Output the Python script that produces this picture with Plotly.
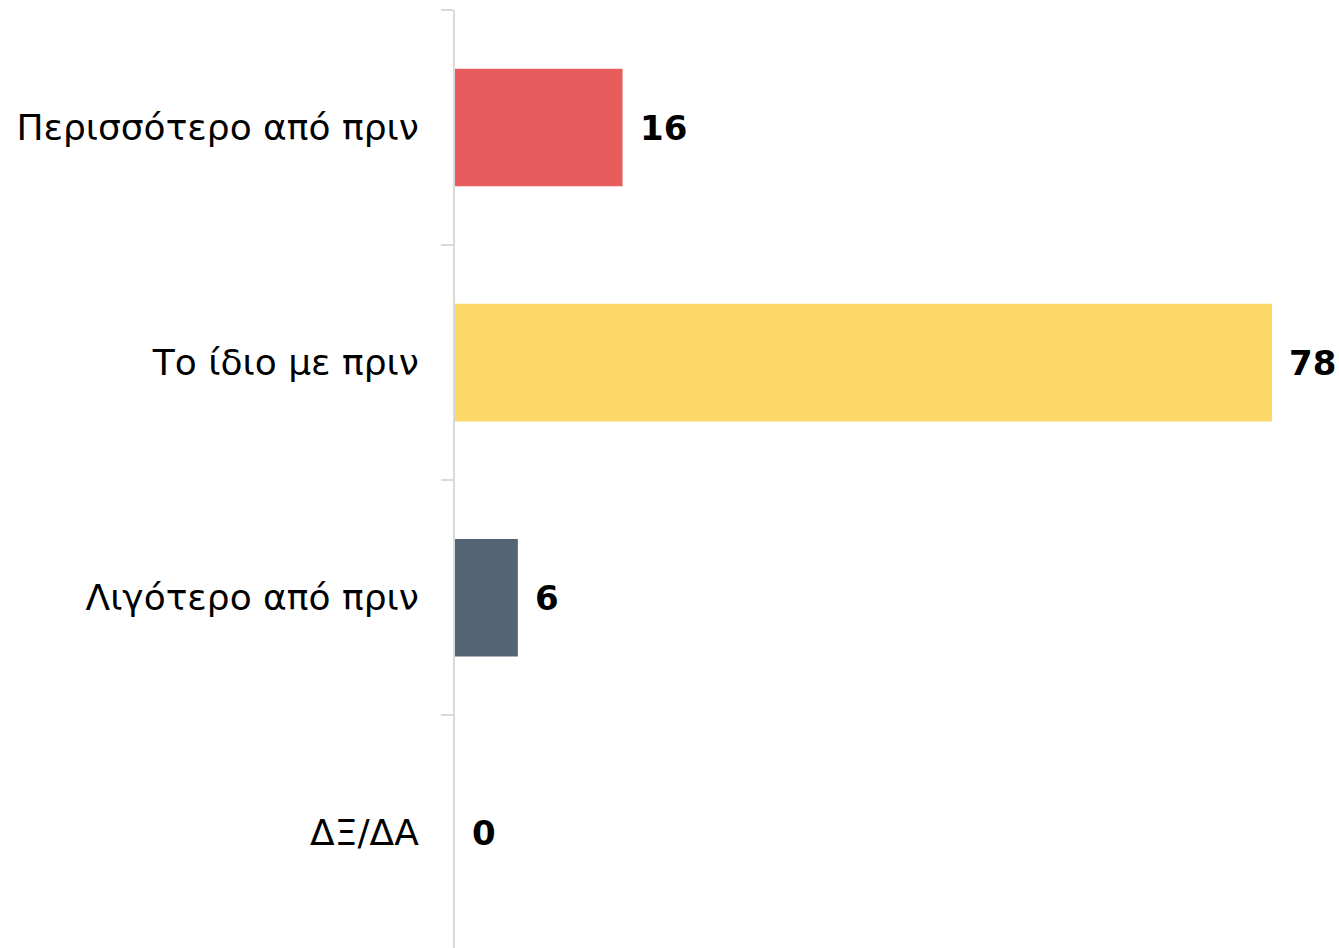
import plotly.graph_objects as go

categories = ["Περισσότερο από πριν", "Το ίδιο με πριν", "Λιγότερο από πριν", "ΔΞ/ΔΑ"]
values = [16, 78, 6, 0]
colors = ["#E95C5E", "#FDD868", "#536475", "#A5A5A5"]

FONT = "DejaVu Sans"

fig = go.Figure()
fig.add_trace(go.Bar(
    y=categories, x=values, orientation="h",
    marker=dict(color=colors, line=dict(width=0)),
    width=0.5, hoverinfo="skip",
))

for c, v in zip(categories, values):
    fig.add_annotation(
        x=v, y=c, text=f"<b>{v}</b>", showarrow=False,
        xanchor="left", yanchor="middle", xshift=15,
        font=dict(family=FONT, size=34, color="#000000"),
    )

fig.update_layout(
    width=1339, height=948,
    margin=dict(l=455, r=0, t=10, b=0),
    paper_bgcolor="white", plot_bgcolor="white",
    showlegend=False,
    bargap=0.5,
)
fig.update_xaxes(visible=False, range=[0, 84.4])
fig.update_yaxes(
    type="category",
    categoryorder="array", categoryarray=categories,
    range=[3.49, -0.5],
    showline=True, linecolor="#D9D9D9", linewidth=2,
    ticks="outside", ticklen=12, tickwidth=2, tickcolor="#D9D9D9",
    tickson="boundaries",
    showgrid=False, zeroline=False,
    ticklabelstandoff=27,
    tickfont=dict(family=FONT, size=36, color="#000000"),
)

fig.write_html(
    "out.html",
    config={"displayModeBar": False},
    post_script="document.body.style.margin='0';document.body.style.overflow='hidden';",
)
